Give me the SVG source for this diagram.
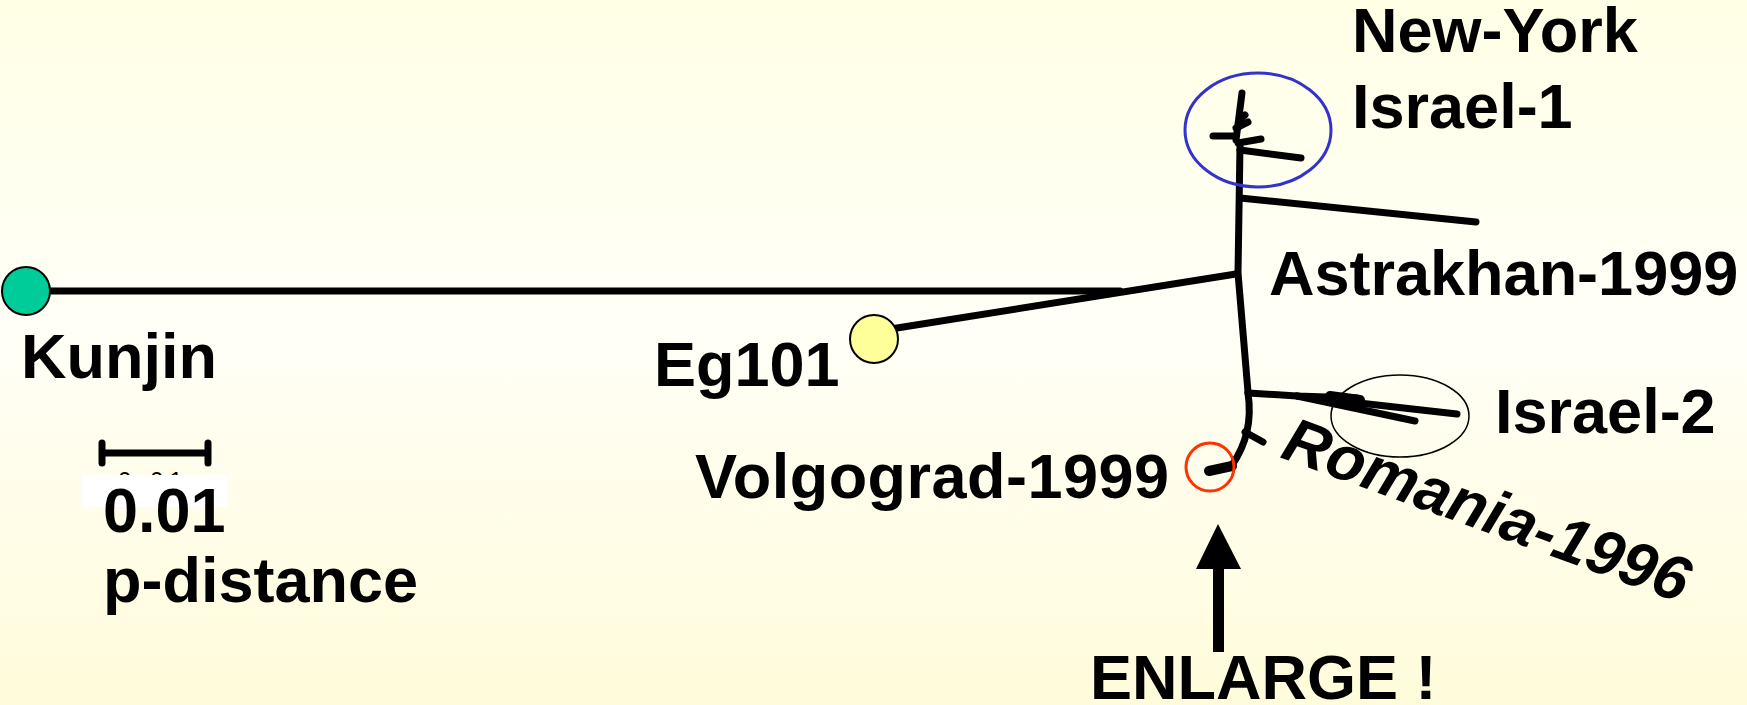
<svg xmlns="http://www.w3.org/2000/svg" width="1747" height="705" viewBox="0 0 1747 705">
<defs>
<linearGradient id="bg" x1="0" y1="0" x2="0" y2="1">
<stop offset="0" stop-color="#FFFFE6"/>
<stop offset="0.45" stop-color="#FFFFF7"/>
<stop offset="1" stop-color="#FFFCDB"/>
</linearGradient>
</defs>
<style>
.br{fill:none;stroke:#000;stroke-width:7;stroke-linecap:round;stroke-linejoin:round}
.lbl{font-family:"Liberation Sans",Arial,sans-serif;font-weight:bold;font-size:63px;fill:#000}
</style>
<rect x="0" y="0" width="1747" height="705" fill="url(#bg)"/>
<g id="connectors">
<path class="br" d="M50,291 L1120,291"/>
<path class="br" d="M897,328 L1236,274"/>
<path class="br" d="M1240,146 L1238,273 L1248,392"/>
<path class="br" d="M1240,198 L1476,222"/>
<path class="br" d="M1240,150 L1301,158"/>
<path class="br" d="M1236,140 L1242,93"/>
<path class="br" d="M1213,136 L1234,136"/>
<path class="br" d="M1238,143 L1261,139"/>
<path class="br" d="M1236,128 L1248,122"/>
<path class="br" d="M1240,119 L1245,115"/>
<path class="br" d="M1248,393 L1297,396 L1357,398"/>
<path class="br" d="M1297,396 L1457,414"/>
<path class="br" d="M1297,396 L1415,421"/>
<path class="br" d="M1330,396 L1360,400" style="stroke-width:10"/>
<path class="br" d="M1248,393 C1252,420 1246,445 1232,465"/>
<path class="br" d="M1232,466 L1209,471" style="stroke-width:10"/>
<path class="br" d="M1245,432 L1263,442"/>
</g>
<g id="node-kunjin">
<circle cx="26" cy="291" r="24" fill="#00CC99" stroke="#000" stroke-width="2"/>
<text class="lbl" x="21" y="378">Kunjin</text>
</g>
<g id="node-eg101">
<circle cx="874" cy="339" r="24" fill="#FFFF99" stroke="#000" stroke-width="2"/>
<text class="lbl" x="654" y="386">Eg101</text>
</g>
<g id="node-newyork">
<ellipse cx="1258" cy="130" rx="73" ry="57" fill="none" stroke="#3333CC" stroke-width="3"/>
<text class="lbl" x="1352" y="52">New-York</text>
<text class="lbl" x="1352" y="128">Israel-1</text>
</g>
<g id="node-astrakhan">
<text class="lbl" x="1269" y="295">Astrakhan-1999</text>
</g>
<g id="node-israel2">
<ellipse cx="1400" cy="416" rx="69" ry="41" fill="none" stroke="#000" stroke-width="1.5"/>
<text class="lbl" x="1495" y="433">Israel-2</text>
</g>
<g id="node-volgograd">
<circle cx="1210" cy="467" r="24" fill="none" stroke="#FF3300" stroke-width="3"/>
<text class="lbl" x="695" y="498" textLength="474">Volgograd-1999</text>
</g>
<g id="node-romania">
<text class="lbl" font-style="italic" transform="translate(1279,457) rotate(20)">Romania-1996</text>
</g>
<g id="scale">
<path class="br" d="M102,453 L208,453 M102,443 L102,463 M208,443 L208,463"/>
<text x="118" y="489" font-family="Liberation Sans,Arial,sans-serif" font-size="24" letter-spacing="6" fill="#000">0.01</text>
<rect x="82" y="475" width="145" height="32" fill="#FFFFFF"/>
<text class="lbl" x="103" y="532">0.01</text>
<text class="lbl" x="103" y="602">p-distance</text>
</g>
<g id="enlarge">
<polygon points="1218,524 1196,569 1241,569" fill="#000"/>
<rect x="1213" y="568" width="11" height="84" fill="#000"/>
<text class="lbl" x="1090" y="699">ENLARGE !</text>
</g>
</svg>
